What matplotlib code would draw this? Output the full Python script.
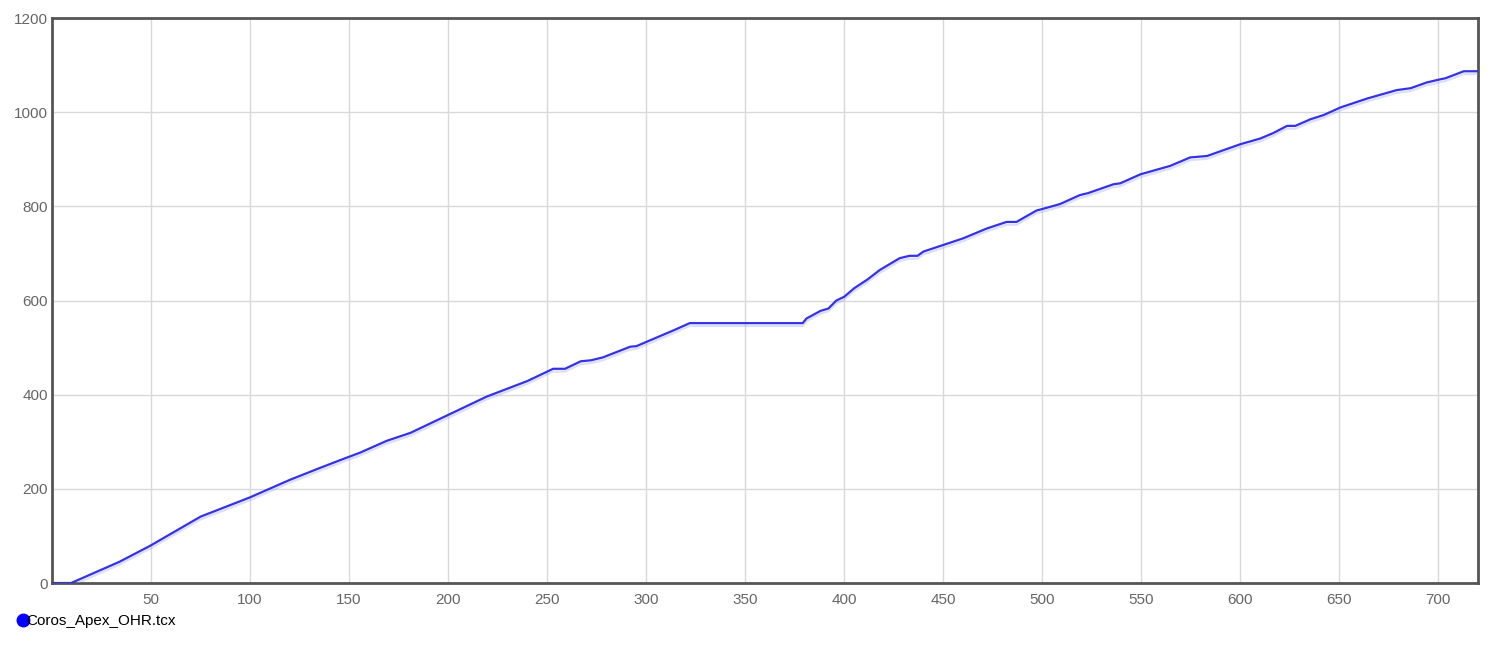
import matplotlib.pyplot as plt
import matplotlib.patheffects as pe
from matplotlib.lines import Line2D

plt.rcParams['font.family'] = ['Liberation Sans', 'DejaVu Sans']

# distance vs cumulative value
x = [0, 9.6, 34, 49.5, 75, 100, 120, 135, 145.5, 155.6, 169, 181, 199, 219.5,
     240, 253, 259, 267, 272, 278, 292, 295, 314, 322, 379, 381, 388, 392,
     396, 400, 405, 411.5, 418, 428, 433, 437, 440, 450, 460, 472, 482, 487,
     497, 504, 509, 519, 523, 536, 539.4, 549.5, 564.6, 574.7, 583.2, 600,
     610, 616.8, 623.6, 627.8, 635.4, 642.1, 650.5, 664, 679, 686, 694, 701,
     703.5, 712.8, 720]
y = [0, 0, 45, 79, 141, 182, 219, 244, 261, 277, 302, 319, 355, 396,
     429, 455, 455, 471, 473, 479, 502, 503, 537, 552, 552, 562, 578, 583,
     600, 608, 626, 644, 665, 690, 695, 695, 704, 718, 732, 753, 767, 767,
     791, 799, 805, 824, 828, 847, 849, 868, 886, 904, 907, 932,
     944, 956, 971, 971, 985, 994, 1010, 1029, 1047, 1051, 1063, 1070,
     1072, 1087, 1087]
label = "Coros_Apex_OHR.tcx"
xticks = [50, 100, 150, 200, 250, 300, 350, 400, 450, 500, 550, 600, 650, 700]
yticks = [0, 200, 400, 600, 800, 1000, 1200]

fig = plt.figure(figsize=(15, 6.45), dpi=100)
ax = fig.add_axes([0.0347, 0.0961, 0.9506, 0.8759])

ax.plot(x, y, color="#3333e6", lw=1.6, zorder=3,
        path_effects=[pe.SimpleLineShadow(offset=(0, -2), shadow_color="#9090ff", alpha=0.3),
                      pe.Normal()])

ax.set_xlim(0, 720)
ax.set_ylim(0, 1200)
ax.set_xticks(xticks)
ax.set_yticks(yticks)
ax.grid(True, color="#d9d9d9", lw=1)
ax.set_axisbelow(True)
ax.tick_params(length=0, labelsize=11, labelcolor="#666666")
ax.tick_params(axis="y", pad=3)
ax.tick_params(axis="x", pad=7)
for s in ax.spines.values():
    s.set_color("#555555")
    s.set_linewidth(2)

fig.legend(handles=[Line2D([], [], marker="o", color="#0000ff", linestyle="none", markersize=9)],
           labels=[label], loc="center left", bbox_to_anchor=(0.0, 0.037),
           frameon=False, handletextpad=-0.4, handlelength=1.2, fontsize=11)

fig.savefig("out.png", dpi=100)
